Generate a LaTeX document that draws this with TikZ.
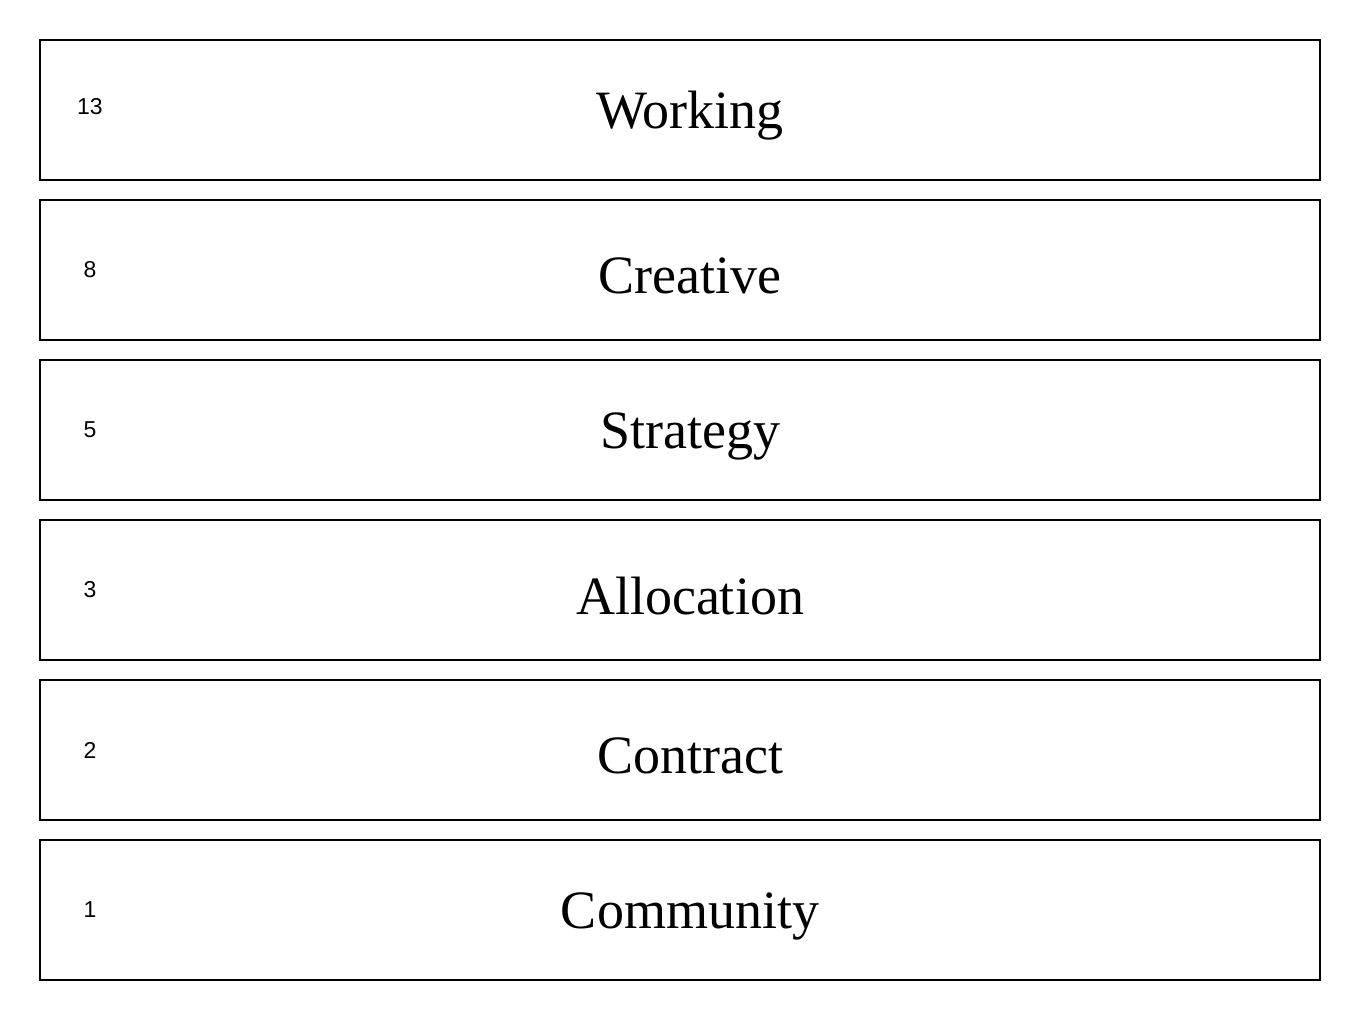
\documentclass[tikz,border=0pt]{standalone}
\usepackage{fontspec}
\setmainfont{Liberation Serif}
\newfontfamily\numfont{Liberation Sans}
\begin{document}
\begin{tikzpicture}[x=1pt,y=-1pt,
  layerbox/.style={draw=black,line width=2pt,fill=white},
  layertitle/.style={font=\fontsize{54}{62}\selectfont,anchor=center},
  layernum/.style={font=\numfont\fontsize{23}{27}\selectfont,anchor=center}]
\useasboundingbox[fill=white] (0,0) rectangle (1360,1029);
\foreach \i/\t/\n/\dy in {0/Working/13/-3,1/Creative/8/0,2/Strategy/5/0,3/Allocation/3/0,4/Contract/2/0,5/Community/1/0}{
  \draw[layerbox] (40,40+160*\i) rectangle (1320,180+160*\i);
  \node[layertitle] (title\i) at (690,116+160*\i) {\t};
  \node[layernum] (num\i) at (90,110+\dy+160*\i) {\n};
}
\end{tikzpicture}
\end{document}
